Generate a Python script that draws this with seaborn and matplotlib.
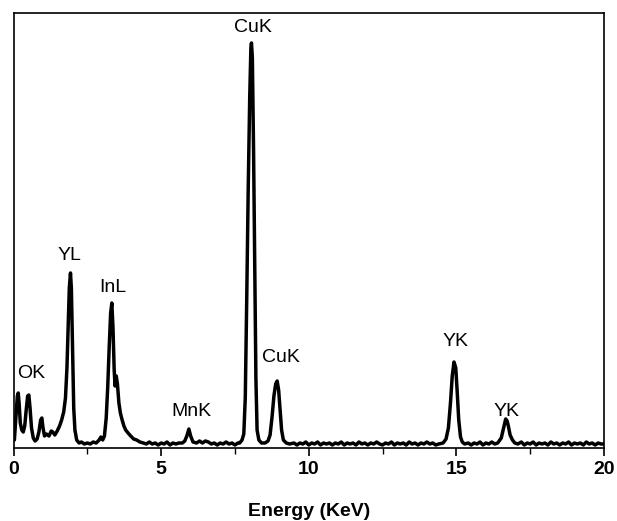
import numpy as np
import pandas as pd
import matplotlib
matplotlib.use("Agg")
import matplotlib.pyplot as plt
from matplotlib.ticker import MultipleLocator
import seaborn as sns

# EDS spectrum: energy (keV) and intensity (a.u.)
energy = [
    0.03, 0.08, 0.13, 0.16, 0.19, 0.23, 0.28, 0.33, 0.38, 0.43, 0.48, 0.52,
    0.56, 0.61, 0.67, 0.73, 0.80, 0.86, 0.92, 0.96, 1.00, 1.05, 1.12, 1.20,
    1.28, 1.33, 1.40, 1.48, 1.56, 1.63, 1.70, 1.76, 1.81, 1.85, 1.89, 1.93,
    1.96, 2.00, 2.04, 2.08, 2.14, 2.22, 2.30, 2.40, 2.50, 2.60, 2.70, 2.80,
    2.90, 2.96, 3.02, 3.08, 3.14, 3.19, 3.24, 3.29, 3.33, 3.37, 3.41, 3.44,
    3.48, 3.52, 3.57, 3.62, 3.68, 3.74, 3.80, 3.88, 3.97, 4.07, 4.17, 4.28,
    4.40, 4.50, 4.60, 4.70, 4.80, 4.90, 5.00, 5.10, 5.20, 5.30, 5.40, 5.50,
    5.60, 5.72, 5.80, 5.87, 5.94, 6.00, 6.08, 6.20, 6.30, 6.40, 6.50, 6.60,
    6.70, 6.80, 6.90, 7.00, 7.10, 7.20, 7.30, 7.40, 7.50, 7.60,
    7.66, 7.74, 7.80, 7.85, 7.90, 7.95, 8.00, 8.04, 8.06, 8.09, 8.13,
    8.17, 8.21, 8.25, 8.31, 8.40, 8.52, 8.62, 8.69, 8.76, 8.82, 8.88, 8.93,
    8.98, 9.03, 9.08, 9.14, 9.24, 9.35, 9.50, 9.60, 9.70, 9.80, 9.90,
    10.00, 10.10, 10.20, 10.30, 10.40, 10.50, 10.60, 10.70, 10.80, 10.90,
    11.00, 11.10, 11.20, 11.30, 11.40, 11.50, 11.60, 11.70, 11.80, 11.90,
    12.00, 12.10, 12.20, 12.30, 12.40, 12.50, 12.60, 12.70, 12.80, 12.90,
    13.00, 13.10, 13.20, 13.30, 13.40, 13.50, 13.60, 13.70, 13.80, 13.90,
    14.00, 14.10, 14.20, 14.30, 14.40,
    14.55, 14.65, 14.73, 14.80, 14.86, 14.92, 14.98, 15.03, 15.08, 15.14,
    15.20, 15.28, 15.40, 15.50, 15.60, 15.70, 15.80, 15.90, 16.00, 16.10,
    16.20, 16.30, 16.40, 16.52, 16.60,
    16.67, 16.72, 16.76, 16.82, 16.90, 16.98, 17.08, 17.20, 17.30, 17.40,
    17.50, 17.60, 17.70, 17.80, 17.90, 18.00, 18.10, 18.20, 18.30, 18.40,
    18.50, 18.60, 18.70, 18.80, 18.90, 19.00, 19.10, 19.20, 19.30, 19.40,
    19.50, 19.60, 19.70, 19.80, 19.90, 20.00,
]
intensity = [
    8, 30, 52, 55, 45, 25, 18, 16, 22, 38, 52, 53,
    40, 20, 10, 7, 9, 16, 28, 30, 20, 12, 14, 12,
    17, 16, 13, 17, 22, 28, 36, 50, 80, 120, 160, 175,
    160, 100, 40, 18, 8, 5, 6, 4, 5, 4, 6, 5,
    8, 11, 8, 12, 30, 60, 100, 135, 145, 120, 78, 62,
    72, 64, 45, 35, 28, 22, 18, 15, 12, 9, 8, 6,
    5, 4, 6, 4, 5, 3, 5, 4, 6, 3, 5, 4,
    5, 5, 7, 12, 19, 12, 6, 5, 7, 5, 7, 6,
    4, 5, 3, 5, 4, 6, 4, 5, 3, 5,
    5, 8, 14, 50, 150, 260, 350, 400, 405, 390, 300,
    180, 70, 18, 8, 5, 5, 7, 13, 32, 52, 64, 67,
    58, 38, 18, 8, 5, 4, 5, 3, 5, 4, 6,
    3, 5, 4, 6, 3, 5, 4, 5, 3, 5,
    4, 6, 3, 5, 4, 5, 3, 6, 4, 5,
    3, 5, 4, 6, 4, 3, 5, 4, 6, 3,
    5, 4, 5, 3, 6, 4, 5, 3, 5, 4,
    6, 4, 5, 3, 4,
    5, 9, 20, 45, 72, 86, 80, 55, 28, 11,
    6, 4, 5, 3, 5, 4, 6, 3, 5, 4,
    6, 4, 5, 10, 20,
    29, 27, 22, 13, 8, 5, 4, 6, 3, 5,
    4, 6, 3, 5, 4, 5, 3, 6, 4, 5,
    3, 5, 4, 6, 3, 5, 4, 5, 3, 6,
    4, 5, 3, 5, 4, 4,
]

# Peak annotations
peak_labels = ["OK", "YL", "InL", "MnK", "CuK", "CuK", "YK", "YK"]
label_x = [0.59, 1.91, 3.35, 6.01, 8.11, 9.06, 14.98, 16.71]
label_y = [74, 193, 160, 36, 420, 91, 106, 37]

df = pd.DataFrame({"Energy (KeV)": energy, "Intensity": intensity})

sns.set_style("ticks")
plt.rcParams["font.family"] = ["Liberation Sans", "DejaVu Sans"]

fig = plt.figure(figsize=(6.17, 5.21), dpi=100)
ax = fig.add_axes([13.5 / 617, 1 - 448 / 521, (604 - 13.5) / 617, (448 - 13) / 521])

sns.lineplot(data=df, x="Energy (KeV)", y="Intensity", ax=ax,
             color="black", linewidth=2.5, estimator=None)

for name, x, y in zip(peak_labels, label_x, label_y):
    ax.text(x, y, name, ha="center", va="center", fontsize=14, color="black")

ax.set_xlim(0, 20)
ax.set_ylim(0, 435)
ax.set_yticks([])
ax.set_ylabel("")
ax.xaxis.set_major_locator(MultipleLocator(5))
ax.xaxis.set_minor_locator(MultipleLocator(2.5))
ax.tick_params(axis="x", which="major", direction="out", length=6, width=1.2,
               labelsize=14, pad=3, color="black", labelcolor="black")
ax.tick_params(axis="x", which="minor", direction="out", length=4, width=1.0,
               color="black")
for lbl in ax.get_xticklabels():
    lbl.set_fontweight("bold")
ax.set_xlabel("Energy (KeV)", fontsize=14, fontweight="bold", labelpad=18,
              color="black")

for side in ["left", "right", "top", "bottom"]:
    ax.spines[side].set_visible(True)
    ax.spines[side].set_color("black")
    ax.spines[side].set_linewidth(1.2)

fig.savefig("out.png", dpi=100, facecolor="white")
